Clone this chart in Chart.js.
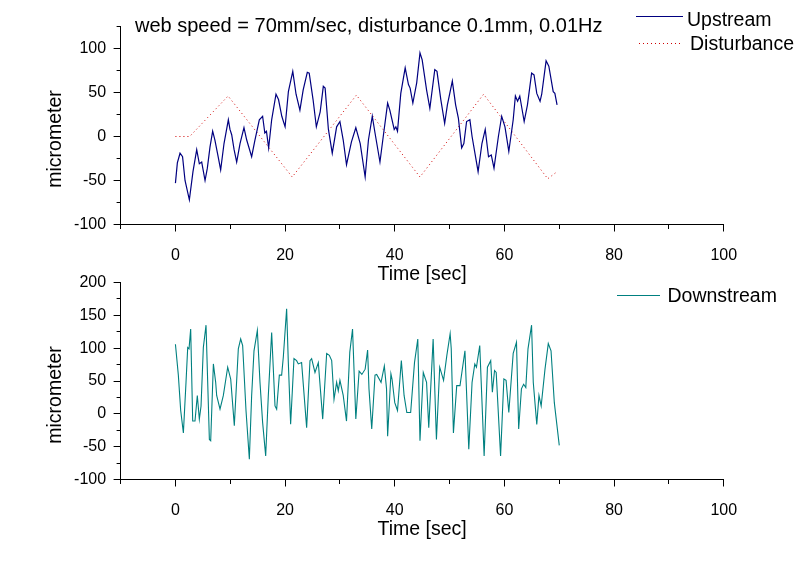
<!DOCTYPE html>
<html>
<head>
<meta charset="utf-8">
<script src="https://cdn.jsdelivr.net/npm/chart.js@4.4.1/dist/chart.umd.min.js"></script>
<style>
  html, body { margin: 0; padding: 0; background: #fff; }
  #wrap { position: relative; width: 800px; height: 562px; overflow: hidden;
          font-family: "Liberation Sans", Arial, sans-serif; color: #000; }
  canvas { position: absolute; left: 0; }
  .txt { position: absolute; white-space: nowrap; font-size: 19.5px; line-height: 19.5px; }
  .ytitle { position: absolute; white-space: nowrap; font-size: 19.5px; line-height: 19.5px;
            transform: translate(-50%, -50%) rotate(-90deg); }
  svg.key { position: absolute; overflow: visible; }
</style>
</head>
<body>
<div id="wrap">
  <canvas id="topChart" width="800" height="290" style="top:0px"></canvas>
  <canvas id="bottomChart" width="800" height="300" style="top:262px"></canvas>

  <div class="txt" style="left:135px; top:14.5px; font-size:20px; line-height:20px;">web speed = 70mm/sec, disturbance 0.1mm, 0.01Hz</div>

  <svg class="key" style="left:636px; top:15.5px" width="47" height="1"><line x1="0" y1="0.5" x2="47" y2="0.5" stroke="#000080" stroke-width="1"/></svg>
  <div class="txt" style="left:687px; top:9.5px;">Upstream</div>
  <svg class="key" style="left:639px; top:43px" width="42" height="1"><line x1="0" y1="0.5" x2="42" y2="0.5" stroke="#d00000" stroke-width="1" stroke-dasharray="1 3"/></svg>
  <div class="txt" style="left:690px; top:33.5px;">Disturbance</div>

  <svg class="key" style="left:617px; top:295px" width="43" height="1"><line x1="0" y1="0.5" x2="43" y2="0.5" stroke="#008080" stroke-width="1"/></svg>
  <div class="txt" style="left:667.5px; top:285.5px;">Downstream</div>

  <div class="ytitle" style="left:55px; top:139px;">micrometer</div>
  <div class="ytitle" style="left:55px; top:395px;">micrometer</div>
</div>

<script>
// upstream sensor (top plot)
const upTime = [0.0, 0.35, 0.84, 1.3, 1.75, 2.54, 3.2, 3.88, 4.36, 4.79, 5.4, 5.82, 6.3, 6.79, 7.2, 7.7,
  8.25, 8.86, 9.65, 9.95, 10.26, 10.7, 11.17, 11.78, 12.5, 13.0, 13.9, 14.5, 15.3, 15.9, 16.3, 16.6,
  17.0, 17.55, 18.34, 18.8, 19.4, 20.0, 20.6, 21.4, 22.0, 22.7, 23.3, 24.05, 24.4, 25.1, 25.7, 26.4,
  26.97, 27.3, 27.9, 28.6, 29.4, 30.0, 30.6, 31.2, 32.1, 32.9, 33.7, 34.6, 35.2, 35.9, 36.4, 37.3,
  37.9, 38.7, 39.1, 39.9, 40.2, 40.5, 41.1, 41.9, 42.5, 42.8, 43.3, 44.0, 44.6, 45.0, 45.8, 46.4,
  47.3, 47.7, 48.4, 49.1, 49.6, 50.5, 51.1, 51.6, 52.2, 52.6, 53.1, 53.7, 54.1, 55.2, 55.9, 56.5,
  57.1, 57.6, 58.1, 58.9, 59.5, 60.1, 60.8, 61.6, 62.0, 62.4, 62.8, 63.6, 64.2, 64.96, 65.4, 65.9,
  66.5, 66.8, 67.6, 68.1, 68.9, 69.2, 69.6];
const upValue = [-53, -30, -19, -23, -50, -72, -40, -15, -31, -29, -50, -36, -12, 6, -4, -20,
  -38, -8, 19, 8, 2, -15, -29, -8, 10, -4, -23, -4, 19, 23, 4, 6,
  -13, 19, 48, 42, 23, 11, 51, 74, 48, 30, 53, 73, 72, 42, 11, 28,
  57, 55, 8, -19, 11, 17, -4, -32, -6, 10, -8, -46, -4, 23, 4, -29,
  0, 38, 30, 8, 11, 6, 49, 78, 59, 55, 38, 61, 95, 87, 53, 32,
  76, 74, 42, 15, 36, 63, 36, 21, -13, -8, 17, 19, 0, -40, -8, 8,
  -23, -21, -36, 0, 23, 11, -17, 19, 46, 40, 46, 17, 36, 72, 70, 49,
  40, 48, 86, 80, 51, 49, 36];

// disturbance (top plot, dotted)
const distTime = [0, 2.6, 9.6, 21.3, 33.0, 44.6, 56.2, 67.9, 69.6];
const distValue = [0, 0, 46, -46, 47, -46, 48, -48, -40];

// downstream sensor (bottom plot)
const downTime = [0.0, 0.53, 0.96, 1.45, 1.93, 2.24, 2.48, 2.78, 3.15, 3.57, 3.99, 4.36, 4.67, 5.09,
  5.58, 6.19, 6.43, 6.92, 7.34, 7.52, 8.13, 8.74, 9.53, 10.08, 10.74, 11.47, 11.9, 12.26, 12.87,
  13.48, 13.9, 14.33, 14.94, 15.42, 15.9, 16.46, 16.94, 17.55, 18.16, 18.46, 18.95, 19.37, 19.68,
  20.28, 20.59, 21.01, 21.62, 22.1, 22.41, 23.01, 23.93, 24.54, 24.84, 25.45, 26.06, 26.86, 27.58,
  28.07, 28.5, 28.92, 29.4, 29.7, 30.0, 30.6, 31.2, 31.8, 32.3, 32.9, 33.5, 34.0, 34.6, 35.05,
  35.3, 35.8, 36.4, 36.7, 37.5, 38.1, 38.5, 38.7, 39.3, 39.5, 40.0, 40.5, 41.2, 41.7, 42.2, 42.9,
  43.6, 44.2, 44.6, 45.2, 45.8, 46.2, 47.0, 47.6, 48.2, 48.9, 49.5, 50.1, 50.3, 50.7, 51.3, 51.9,
  52.8, 53.5, 54.1, 54.6, 54.9, 55.5, 56.3, 56.9, 57.5, 57.8, 58.2, 58.5, 59.3, 59.9, 60.3, 60.8,
  61.6, 62.2, 62.6, 63.1, 63.5, 63.9, 64.3, 64.95, 65.26, 65.9, 66.3, 66.7, 67.4, 68.0, 68.5,
  69.1, 70.0];
const downValue = [106, 59, 5, -29, 48, 101, 99, 129, -11, -11, 28, -8, 12, 101,
  135, -39, -41, 76, 48, 28, 7, 28, 71, 53, -18, 99, 114, 104, 5,
  -69, 28, 96, 127, 48, -13, -64, 28, 124, 12, 7, 59, 59, 87,
  160, 78, -16, 84, 81, 76, 78, -21, 81, 84, 63, 78, -8, 92,
  89, 81, 22, 48, 35, 51, 28, -11, 94, 129, -8, 65, 60, 68, 97,
  38, -23, 59, 60, 48, 73, 38, -34, 61, 53, 17, 5, 81, 28, 2, 2,
  78, 114, -41, 63, 48, -21, 114, -39, 71, 51, 89, 122, 99, -29, 43, 43,
  96, -54, 48, 76, 71, 104, -64, 71, 81, 33, 66, 63, -64, 53, 51, 2,
  92, 109, -23, 38, 45, 40, 99, 135, 48, -16, 28, 12, 68, 107, 96,
  17, -48];

// labelled (major) ticks
const xLabels = [0, 20, 40, 60, 80, 100];
const topYLabels = [-100, -50, 0, 50, 100];
const bottomYLabels = [-100, -50, 0, 50, 100, 150, 200];

const FONT = "'Liberation Sans', Arial, sans-serif";

function pts(ts, vs) {
  return ts.map((t, i) => ({ x: t, y: vs[i] }));
}

// minor ticks are drawn shorter by shifting the dash pattern
function tickGrid(labels, side) {
  return {
    drawOnChartArea: false,
    drawTicks: true,
    tickLength: 7,
    tickColor: '#000',
    tickWidth: 1,
    tickBorderDash: [7, 20],
    tickBorderDashOffset: ctx => {
      if (!ctx.tick || labels.includes(ctx.tick.value)) return 0;
      return side === 'left' ? 24 : 3;
    }
  };
}

function makeChart(id, datasets, yMin, yMax, yLabels, padTop, xHeight, titlePad) {
  return new Chart(document.getElementById(id), {
    type: 'line',
    data: { datasets },
    options: {
      responsive: false,
      animation: false,
      events: [],
      layout: { padding: { top: padTop, right: 76.25, bottom: 0, left: 0 } },
      plugins: { legend: { display: false }, tooltip: { enabled: false } },
      elements: { point: { radius: 0 }, line: { tension: 0, borderWidth: 1 } },
      scales: {
        x: {
          type: 'linear',
          min: -10,
          max: 100,
          ticks: {
            stepSize: 10, autoSkip: false, maxRotation: 0, padding: 14, color: '#000',
            font: { family: FONT, size: 16 },
            callback: v => xLabels.includes(v) ? String(v) : ''
          },
          grid: tickGrid(xLabels, 'bottom'),
          border: { display: true, color: '#000', width: 1 },
          title: {
            display: true, text: 'Time [sec]', color: '#000',
            font: { family: FONT, size: 19.5 },
            padding: { top: 0, bottom: titlePad }
          },
          afterFit: s => { s.height = xHeight; }
        },
        y: {
          min: yMin,
          max: yMax,
          ticks: {
            stepSize: 25, autoSkip: false, padding: 7.5, color: '#000',
            font: { family: FONT, size: 16 },
            callback: v => yLabels.includes(v) ? String(v) : ''
          },
          grid: tickGrid(yLabels, 'left'),
          border: { display: true, color: '#000', width: 1 },
          afterFit: s => { s.width = 120.6; }
        }
      }
    }
  });
}

makeChart('topChart', [
  { label: 'Upstream', data: pts(upTime, upValue), borderColor: '#000080', borderWidth: 1.2 },
  { label: 'Disturbance', data: pts(distTime, distValue), borderColor: '#d00000', borderWidth: 1, borderDash: [1, 3] }
], -100, 125, topYLabels, 26.5, 65.5, 3.6);

makeChart('bottomChart', [
  { label: 'Downstream', data: pts(downTime, downValue), borderColor: '#008080', borderWidth: 1.1 }
], -100, 200, bottomYLabels, 20.5, 82.5, 21);
</script>
</body>
</html>
